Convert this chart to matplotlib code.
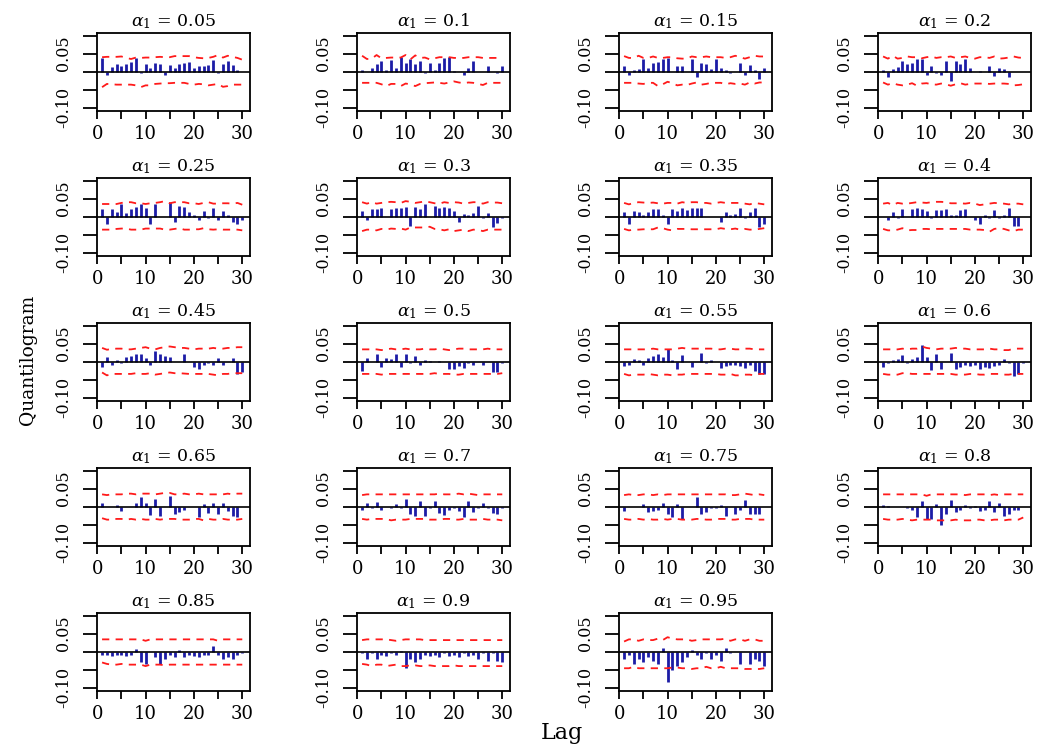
import numpy as np
import matplotlib.pyplot as plt

plt.rcParams['font.family'] = ['DejaVu Serif']
plt.rcParams['mathtext.fontset'] = 'dejavuserif'

lags = np.arange(1, 31)
alphas = ["0.05", "0.1", "0.15", "0.2", "0.25", "0.3", "0.35", "0.4", "0.45", "0.5",
          "0.55", "0.6", "0.65", "0.7", "0.75", "0.8", "0.85", "0.9", "0.95"]

# sample quantilogram by lag, one list per quantile level
q05 = [0.037, -0.010, 0.012, 0.022, 0.016, 0.022, 0.027, 0.037, -0.004, 0.022,
       0.010, 0.025, 0.022, -0.008, 0.018, 0.010, 0.022, 0.025, 0.028, 0.010,
       0.015, 0.015, 0.018, 0.032, -0.004, 0.020, 0.030, 0.018, 0.005, 0.000]
q10 = [0.005, 0.000, 0.010, 0.020, 0.030, 0.005, 0.033, 0.010, 0.040, 0.025,
       0.035, 0.020, 0.030, -0.005, 0.025, 0.005, 0.025, 0.038, 0.040, 0.003,
       0.000, -0.010, 0.010, 0.030, 0.000, 0.000, 0.015, 0.000, -0.005, 0.015]
q15 = [0.015, -0.010, 0.005, 0.008, 0.035, 0.010, 0.025, 0.028, 0.035, 0.038,
       0.000, 0.015, 0.015, 0.000, 0.035, -0.015, 0.025, 0.020, 0.008, 0.035,
       0.010, 0.005, -0.003, 0.000, 0.025, -0.010, 0.018, 0.005, -0.020, 0.010]
q20 = [0.005, -0.015, 0.008, 0.012, 0.030, 0.020, 0.025, 0.035, 0.035, -0.010,
       0.015, -0.005, -0.010, 0.030, -0.025, 0.030, 0.020, 0.035, 0.010, 0.000,
       0.003, 0.000, 0.015, -0.012, 0.010, 0.008, -0.015, 0.000, 0.000, 0.000]
q25 = [0.020, -0.020, 0.020, 0.012, 0.035, 0.010, 0.020, 0.028, 0.035, 0.025,
       -0.020, 0.035, 0.000, 0.000, 0.040, -0.015, 0.030, 0.028, 0.012, 0.005,
       -0.008, 0.015, -0.005, 0.025, -0.010, 0.015, 0.005, -0.015, -0.020, -0.010]
q30 = [0.015, -0.010, 0.020, 0.020, 0.025, 0.000, 0.020, 0.025, 0.025, 0.028,
       -0.025, 0.028, 0.020, 0.035, 0.000, 0.030, 0.025, 0.028, 0.025, 0.015,
       -0.015, 0.008, 0.005, 0.010, 0.030, -0.005, 0.010, -0.030, -0.018, -0.005]
q35 = [0.012, -0.020, 0.015, 0.012, 0.005, 0.012, 0.020, 0.020, 0.005, -0.020,
       0.020, 0.015, 0.025, 0.018, 0.025, 0.025, 0.025, 0.000, 0.000, 0.000,
       -0.015, 0.012, 0.005, 0.008, 0.025, -0.005, 0.012, 0.025, -0.030, -0.020]
q40 = [0.000, -0.010, 0.012, -0.005, 0.020, 0.000, 0.020, 0.025, 0.020, 0.015,
       -0.005, 0.018, 0.018, 0.020, 0.005, 0.005, 0.018, 0.020, 0.000, -0.008,
       -0.020, 0.005, -0.005, 0.018, -0.005, 0.005, 0.025, -0.025, -0.025, 0.000]
q45 = [-0.015, 0.013, -0.008, 0.005, -0.005, 0.012, 0.015, 0.022, 0.020, 0.010,
       -0.010, 0.030, 0.020, 0.015, 0.012, 0.000, 0.000, 0.020, 0.000, -0.015,
       -0.020, -0.010, -0.005, -0.010, 0.010, -0.010, 0.000, 0.010, -0.035, -0.030]
q50 = [-0.025, 0.010, 0.000, 0.020, -0.015, 0.010, 0.008, 0.020, -0.015, 0.020,
       -0.005, 0.015, -0.008, 0.005, 0.003, 0.000, 0.002, 0.000, -0.020, -0.020,
       -0.012, -0.018, -0.005, -0.008, 0.000, -0.010, 0.000, -0.030, -0.030, -0.005]
q55 = [-0.012, -0.008, 0.008, 0.005, -0.008, 0.010, 0.015, 0.020, 0.012, 0.035,
       0.005, -0.020, 0.018, 0.000, -0.015, 0.000, 0.025, -0.005, 0.005, 0.000,
       -0.018, -0.012, -0.008, -0.010, -0.012, -0.018, -0.010, -0.025, -0.035, -0.035]
q60 = [-0.015, -0.005, 0.005, 0.008, 0.018, -0.005, 0.008, 0.012, 0.045, 0.012,
       -0.022, 0.020, -0.020, 0.000, 0.025, -0.020, -0.015, -0.008, -0.012, -0.010,
       -0.020, -0.015, -0.018, -0.012, -0.010, 0.008, -0.005, -0.040, -0.035, -0.005]
q65 = [0.010, 0.000, 0.000, 0.005, -0.012, 0.000, 0.000, 0.010, 0.028, 0.010,
       -0.022, 0.020, -0.025, 0.000, 0.030, -0.020, -0.015, -0.010, 0.000, 0.000,
       -0.030, 0.008, -0.018, 0.010, -0.020, 0.010, -0.012, -0.025, -0.030, 0.000]
q70 = [-0.008, 0.010, -0.005, 0.012, -0.008, 0.000, -0.005, 0.008, -0.005, 0.020,
       -0.020, -0.025, 0.015, -0.025, -0.005, 0.015, -0.018, -0.022, -0.010, -0.003,
       -0.012, -0.030, 0.015, -0.015, -0.005, 0.010, -0.005, -0.018, -0.020, -0.005]
q75 = [-0.012, 0.000, 0.000, 0.000, 0.008, -0.015, -0.012, -0.008, 0.010, -0.020,
       -0.030, 0.008, -0.035, 0.000, 0.000, 0.028, -0.020, -0.015, -0.005, -0.003,
       0.005, -0.025, 0.000, -0.020, -0.010, 0.018, -0.020, -0.020, -0.020, 0.000]
q80 = [0.005, 0.003, 0.000, 0.000, 0.000, -0.005, -0.008, -0.030, 0.015, -0.035,
       -0.035, 0.008, -0.050, -0.020, 0.018, -0.015, -0.010, 0.005, -0.005, 0.003,
       -0.012, -0.008, 0.015, -0.015, 0.010, -0.025, -0.020, -0.010, -0.010, 0.000]
q85 = [-0.010, -0.010, -0.012, -0.010, -0.008, -0.012, -0.010, 0.008, -0.030, -0.035,
       0.000, -0.015, -0.035, -0.020, -0.010, -0.015, 0.005, -0.015, -0.010, -0.012,
       -0.015, -0.010, -0.010, 0.015, -0.008, -0.020, -0.015, -0.020, -0.010, -0.005]
q90 = [-0.005, -0.020, -0.005, -0.020, -0.010, -0.012, -0.005, -0.010, 0.003, -0.045,
       -0.020, -0.030, -0.020, -0.010, -0.012, -0.010, -0.015, -0.005, -0.012, -0.010,
       -0.015, -0.005, -0.012, -0.010, -0.020, -0.005, -0.025, -0.005, -0.025, -0.030]
q95 = [-0.020, -0.010, -0.035, -0.020, -0.030, -0.015, -0.025, -0.035, 0.010, -0.085,
       -0.050, -0.040, -0.030, -0.015, 0.005, -0.010, -0.020, -0.005, -0.020, -0.010,
       -0.025, 0.010, -0.005, -0.002, -0.035, 0.000, -0.035, -0.020, -0.025, -0.040]

# upper / lower critical bands by lag
hi05 = [0.040, 0.041, 0.041, 0.041, 0.042, 0.038, 0.035, 0.039, 0.038, 0.039,
        0.039, 0.040, 0.041, 0.040, 0.040, 0.043, 0.043, 0.043, 0.043, 0.040,
        0.038, 0.037, 0.038, 0.041, 0.046, 0.039, 0.044, 0.041, 0.038, 0.033]
lo05 = [-0.043, -0.034, -0.035, -0.036, -0.036, -0.036, -0.036, -0.038, -0.043, -0.038,
        -0.038, -0.034, -0.033, -0.032, -0.032, -0.031, -0.031, -0.031, -0.034, -0.036,
        -0.034, -0.035, -0.038, -0.036, -0.034, -0.042, -0.040, -0.036, -0.036, -0.036]
hi10 = [0.044, 0.035, 0.036, 0.046, 0.037, 0.038, 0.039, 0.039, 0.039, 0.046,
        0.034, 0.045, 0.038, 0.039, 0.034, 0.037, 0.040, 0.040, 0.040, 0.038,
        0.038, 0.038, 0.040, 0.040, 0.040, 0.038, 0.038, 0.038, 0.038, 0.040]
lo10 = [-0.031, -0.031, -0.031, -0.031, -0.035, -0.040, -0.034, -0.034, -0.040, -0.033,
        -0.035, -0.040, -0.034, -0.032, -0.031, -0.030, -0.031, -0.033, -0.030, -0.027,
        -0.030, -0.032, -0.030, -0.031, -0.034, -0.037, -0.031, -0.031, -0.031, -0.031]
hi15 = [0.043, 0.038, 0.038, 0.044, 0.038, 0.038, 0.042, 0.038, 0.038, 0.040,
        0.040, 0.037, 0.036, 0.036, 0.042, 0.040, 0.040, 0.042, 0.040, 0.040,
        0.040, 0.038, 0.040, 0.044, 0.040, 0.036, 0.040, 0.044, 0.042, 0.042]
lo15 = [-0.031, -0.031, -0.031, -0.033, -0.034, -0.031, -0.031, -0.040, -0.035, -0.028,
        -0.032, -0.038, -0.036, -0.037, -0.033, -0.030, -0.036, -0.034, -0.031, -0.031,
        -0.031, -0.035, -0.032, -0.034, -0.033, -0.036, -0.030, -0.033, -0.030, -0.030]
hi20 = [0.042, 0.036, 0.044, 0.036, 0.038, 0.042, 0.040, 0.040, 0.037, 0.040,
        0.042, 0.038, 0.040, 0.040, 0.042, 0.038, 0.040, 0.042, 0.038, 0.036,
        0.040, 0.040, 0.038, 0.042, 0.036, 0.037, 0.039, 0.042, 0.039, 0.038]
lo20 = [-0.030, -0.036, -0.032, -0.036, -0.038, -0.036, -0.032, -0.039, -0.033, -0.032,
        -0.035, -0.036, -0.033, -0.035, -0.039, -0.035, -0.032, -0.036, -0.034, -0.033,
        -0.033, -0.033, -0.034, -0.033, -0.033, -0.033, -0.034, -0.038, -0.037, -0.035]
hi25 = [0.035, 0.035, 0.035, 0.035, 0.038, 0.040, 0.040, 0.037, 0.037, 0.035,
        0.037, 0.038, 0.040, 0.043, 0.037, 0.040, 0.040, 0.040, 0.037, 0.037,
        0.035, 0.038, 0.040, 0.036, 0.036, 0.037, 0.037, 0.036, 0.038, 0.033]
lo25 = [-0.036, -0.036, -0.036, -0.034, -0.033, -0.033, -0.036, -0.036, -0.036, -0.033,
        -0.033, -0.033, -0.033, -0.036, -0.036, -0.034, -0.032, -0.036, -0.036, -0.035,
        -0.035, -0.032, -0.035, -0.036, -0.035, -0.036, -0.036, -0.036, -0.036, -0.038]
hi30 = [0.040, 0.036, 0.040, 0.036, 0.038, 0.040, 0.041, 0.040, 0.038, 0.043,
        0.041, 0.038, 0.040, 0.042, 0.040, 0.037, 0.036, 0.040, 0.038, 0.040,
        0.039, 0.036, 0.038, 0.040, 0.040, 0.036, 0.040, 0.039, 0.039, 0.037]
lo30 = [-0.040, -0.036, -0.036, -0.038, -0.034, -0.036, -0.033, -0.034, -0.033, -0.036,
        -0.030, -0.030, -0.030, -0.030, -0.028, -0.034, -0.035, -0.038, -0.035, -0.040,
        -0.038, -0.036, -0.040, -0.036, -0.037, -0.040, -0.036, -0.036, -0.036, -0.036]
hi35 = [0.038, 0.034, 0.038, 0.040, 0.039, 0.038, 0.039, 0.037, 0.036, 0.038,
        0.038, 0.036, 0.040, 0.038, 0.040, 0.040, 0.038, 0.038, 0.036, 0.038,
        0.040, 0.038, 0.038, 0.038, 0.038, 0.036, 0.034, 0.038, 0.036, 0.034]
lo35 = [-0.034, -0.038, -0.036, -0.036, -0.035, -0.035, -0.035, -0.030, -0.032, -0.036,
        -0.038, -0.034, -0.034, -0.034, -0.035, -0.035, -0.035, -0.035, -0.035, -0.035,
        -0.032, -0.034, -0.035, -0.033, -0.036, -0.034, -0.036, -0.036, -0.034, -0.032]
hi40 = [0.036, 0.038, 0.032, 0.038, 0.036, 0.036, 0.038, 0.040, 0.039, 0.038,
        0.040, 0.041, 0.041, 0.040, 0.037, 0.037, 0.037, 0.036, 0.038, 0.036,
        0.032, 0.034, 0.036, 0.038, 0.037, 0.036, 0.034, 0.036, 0.036, 0.034]
lo40 = [-0.034, -0.038, -0.038, -0.036, -0.032, -0.038, -0.037, -0.037, -0.034, -0.034,
        -0.035, -0.034, -0.034, -0.034, -0.034, -0.034, -0.034, -0.034, -0.036, -0.036,
        -0.036, -0.037, -0.042, -0.034, -0.032, -0.034, -0.038, -0.040, -0.036, -0.036]
hi45 = [0.038, 0.033, 0.035, 0.036, 0.036, 0.034, 0.034, 0.036, 0.038, 0.040,
        0.036, 0.034, 0.038, 0.040, 0.042, 0.040, 0.038, 0.038, 0.036, 0.034,
        0.036, 0.036, 0.036, 0.038, 0.036, 0.036, 0.038, 0.038, 0.040, 0.040]
lo45 = [-0.030, -0.038, -0.034, -0.034, -0.034, -0.034, -0.034, -0.032, -0.034, -0.034,
        -0.032, -0.036, -0.034, -0.032, -0.030, -0.032, -0.032, -0.033, -0.034, -0.034,
        -0.034, -0.034, -0.034, -0.036, -0.038, -0.034, -0.034, -0.032, -0.032, -0.032]
hi50 = [0.034, 0.034, 0.034, 0.034, 0.032, 0.034, 0.036, 0.034, 0.034, 0.036,
        0.034, 0.034, 0.034, 0.036, 0.034, 0.034, 0.036, 0.034, 0.032, 0.034,
        0.036, 0.036, 0.034, 0.034, 0.034, 0.034, 0.036, 0.034, 0.034, 0.034]
lo50 = [-0.034, -0.034, -0.034, -0.034, -0.036, -0.034, -0.034, -0.034, -0.034, -0.034,
        -0.034, -0.034, -0.034, -0.034, -0.034, -0.032, -0.034, -0.034, -0.034, -0.036,
        -0.036, -0.034, -0.034, -0.034, -0.034, -0.034, -0.034, -0.034, -0.034, -0.032]
hi55 = [0.034, 0.034, 0.034, 0.034, 0.034, 0.034, 0.036, 0.034, 0.034, 0.034,
        0.034, 0.036, 0.038, 0.036, 0.036, 0.036, 0.036, 0.036, 0.036, 0.034,
        0.034, 0.036, 0.036, 0.034, 0.034, 0.036, 0.036, 0.034, 0.034, 0.034]
lo55 = [-0.034, -0.038, -0.036, -0.036, -0.036, -0.034, -0.036, -0.038, -0.036, -0.036,
        -0.038, -0.036, -0.036, -0.034, -0.034, -0.034, -0.034, -0.034, -0.034, -0.034,
        -0.036, -0.036, -0.034, -0.038, -0.038, -0.036, -0.036, -0.038, -0.034, -0.034]
hi60 = [0.034, 0.034, 0.034, 0.034, 0.036, 0.034, 0.036, 0.036, 0.042, 0.038,
        0.036, 0.034, 0.036, 0.036, 0.036, 0.038, 0.036, 0.036, 0.034, 0.034,
        0.034, 0.034, 0.036, 0.034, 0.034, 0.032, 0.032, 0.036, 0.036, 0.036]
lo60 = [-0.034, -0.036, -0.036, -0.036, -0.032, -0.032, -0.034, -0.034, -0.034, -0.034,
        -0.034, -0.034, -0.034, -0.034, -0.034, -0.036, -0.036, -0.036, -0.034, -0.034,
        -0.036, -0.036, -0.034, -0.034, -0.034, -0.036, -0.036, -0.034, -0.034, -0.034]
hi65 = [0.034, 0.032, 0.034, 0.034, 0.034, 0.036, 0.036, 0.034, 0.036, 0.036,
        0.036, 0.034, 0.036, 0.038, 0.038, 0.034, 0.034, 0.036, 0.034, 0.034,
        0.036, 0.034, 0.034, 0.034, 0.034, 0.034, 0.036, 0.034, 0.036, 0.036]
lo65 = [-0.032, -0.036, -0.036, -0.034, -0.034, -0.036, -0.034, -0.036, -0.034, -0.036,
        -0.036, -0.034, -0.036, -0.034, -0.034, -0.034, -0.036, -0.036, -0.036, -0.034,
        -0.034, -0.038, -0.034, -0.036, -0.036, -0.034, -0.036, -0.036, -0.036, -0.034]
hi70 = [0.032, 0.034, 0.034, 0.034, 0.034, 0.034, 0.034, 0.034, 0.034, 0.034,
        0.034, 0.034, 0.034, 0.034, 0.034, 0.034, 0.036, 0.034, 0.034, 0.034,
        0.036, 0.034, 0.036, 0.034, 0.032, 0.034, 0.034, 0.034, 0.034, 0.034]
lo70 = [-0.034, -0.036, -0.034, -0.034, -0.034, -0.034, -0.038, -0.036, -0.036, -0.036,
        -0.034, -0.034, -0.034, -0.034, -0.036, -0.036, -0.036, -0.034, -0.034, -0.036,
        -0.036, -0.034, -0.036, -0.036, -0.036, -0.034, -0.036, -0.036, -0.036, -0.038]
hi75 = [0.032, 0.034, 0.032, 0.032, 0.034, 0.034, 0.032, 0.034, 0.032, 0.034,
        0.034, 0.034, 0.034, 0.034, 0.034, 0.034, 0.034, 0.034, 0.034, 0.034,
        0.034, 0.034, 0.032, 0.032, 0.034, 0.036, 0.034, 0.032, 0.034, 0.032]
lo75 = [-0.034, -0.036, -0.036, -0.034, -0.036, -0.034, -0.036, -0.036, -0.034, -0.036,
        -0.034, -0.034, -0.036, -0.036, -0.036, -0.034, -0.034, -0.036, -0.036, -0.034,
        -0.034, -0.034, -0.036, -0.036, -0.034, -0.034, -0.034, -0.036, -0.036, -0.036]
hi80 = [0.034, 0.034, 0.034, 0.034, 0.034, 0.034, 0.034, 0.034, 0.034, 0.030,
        0.034, 0.034, 0.034, 0.034, 0.034, 0.034, 0.034, 0.032, 0.034, 0.034,
        0.034, 0.034, 0.032, 0.034, 0.032, 0.034, 0.034, 0.034, 0.034, 0.034]
lo80 = [-0.034, -0.036, -0.036, -0.036, -0.034, -0.036, -0.038, -0.036, -0.036, -0.036,
        -0.036, -0.038, -0.038, -0.038, -0.038, -0.036, -0.038, -0.038, -0.038, -0.036,
        -0.036, -0.038, -0.038, -0.036, -0.036, -0.038, -0.036, -0.036, -0.036, -0.030]
hi85 = [0.034, 0.034, 0.034, 0.034, 0.034, 0.034, 0.034, 0.034, 0.034, 0.030,
        0.034, 0.034, 0.034, 0.034, 0.034, 0.034, 0.034, 0.034, 0.034, 0.034,
        0.034, 0.034, 0.034, 0.034, 0.030, 0.034, 0.034, 0.034, 0.034, 0.034]
lo85 = [-0.030, -0.034, -0.036, -0.036, -0.034, -0.036, -0.036, -0.036, -0.036, -0.040,
        -0.036, -0.036, -0.036, -0.038, -0.036, -0.036, -0.036, -0.036, -0.036, -0.036,
        -0.036, -0.036, -0.036, -0.036, -0.036, -0.036, -0.036, -0.036, -0.036, -0.036]
hi90 = [0.032, 0.034, 0.034, 0.034, 0.034, 0.034, 0.032, 0.030, 0.032, 0.034,
        0.034, 0.034, 0.034, 0.032, 0.032, 0.032, 0.032, 0.032, 0.032, 0.032,
        0.032, 0.032, 0.032, 0.032, 0.032, 0.032, 0.032, 0.032, 0.032, 0.032]
lo90 = [-0.034, -0.036, -0.040, -0.036, -0.036, -0.040, -0.038, -0.036, -0.040, -0.040,
        -0.038, -0.038, -0.040, -0.040, -0.038, -0.040, -0.040, -0.040, -0.040, -0.038,
        -0.040, -0.040, -0.040, -0.040, -0.040, -0.040, -0.040, -0.040, -0.040, -0.040]
hi95 = [0.028, 0.034, 0.034, 0.030, 0.034, 0.032, 0.032, 0.036, 0.032, 0.040,
        0.036, 0.034, 0.034, 0.034, 0.030, 0.032, 0.034, 0.034, 0.034, 0.034,
        0.034, 0.036, 0.030, 0.034, 0.034, 0.030, 0.034, 0.034, 0.030, 0.030]
lo95 = [-0.046, -0.046, -0.042, -0.046, -0.046, -0.046, -0.046, -0.046, -0.046, -0.046,
        -0.044, -0.044, -0.046, -0.046, -0.048, -0.046, -0.046, -0.042, -0.046, -0.046,
        -0.042, -0.046, -0.046, -0.046, -0.046, -0.048, -0.048, -0.048, -0.048, -0.046]

series = [q05, q10, q15, q20, q25, q30, q35, q40, q45, q50,
          q55, q60, q65, q70, q75, q80, q85, q90, q95]
uppers = [hi05, hi10, hi15, hi20, hi25, hi30, hi35, hi40, hi45, hi50,
          hi55, hi60, hi65, hi70, hi75, hi80, hi85, hi90, hi95]
lowers = [lo05, lo10, lo15, lo20, lo25, lo30, lo35, lo40, lo45, lo50,
          lo55, lo60, lo65, lo70, lo75, lo80, lo85, lo90, lo95]

W, H = 1055, 745
fig = plt.figure(figsize=(W / 100, H / 100), dpi=100)

col_left = [97, 357, 619, 878]
row_top = [33, 178, 323, 468, 613]
bw, bh = 153, 78

for k in range(len(alphas)):
    r, c = divmod(k, 4)
    ax = fig.add_axes([col_left[c] / W, 1 - (row_top[r] + bh) / H, bw / W, bh / H])
    ax.vlines(lags, 0, series[k], color='#1c1ca6', lw=2.0)
    ax.plot(lags, uppers[k], color='#ff1a1a', lw=1.3, ls=(0, (4, 3.5)))
    ax.plot(lags, lowers[k], color='#ff1a1a', lw=1.3, ls=(0, (4, 3.5)))
    ax.axhline(0, color='black', lw=1.2)
    ax.set_xlim(-0.05, 31.6)
    ax.set_ylim(-0.109, 0.107)
    ax.set_xticks([0, 5, 10, 15, 20, 25, 30])
    ax.set_xticklabels(['0', '', '10', '', '20', '', '30'])
    ax.set_yticks([-0.10, -0.05, 0.0, 0.05, 0.10])
    ax.set_yticklabels(['-0.10', '', '', '0.05', ''], rotation=90, va='center')
    ax.tick_params(axis='x', length=6, width=1.3, pad=4, labelsize=13)
    ax.tick_params(axis='y', length=10, width=1.3, pad=8, labelsize=11.5)
    for s in ax.spines.values():
        s.set_linewidth(1.3)
    ax.set_title(r'$\alpha_1$ = ' + alphas[k], fontsize=12.5, pad=5)

fig.text(28 / W, 1 - 360 / H, 'Quantilogram', rotation=90, ha='center', va='center', fontsize=13.5)
fig.text(562 / W, 1 - 733 / H, 'Lag', ha='center', va='center', fontsize=16)

fig.savefig('out.png', dpi=100)
